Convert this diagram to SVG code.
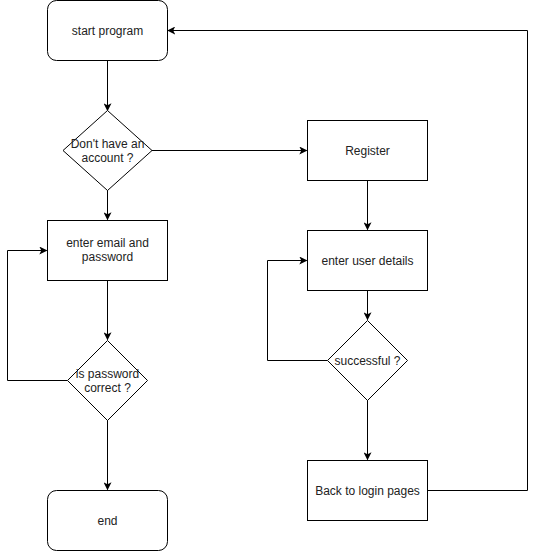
<svg xmlns="http://www.w3.org/2000/svg" width="536" height="551" viewBox="0 0 536 551">
<defs>
<marker id="arr" viewBox="0 0 10 10" refX="9" refY="5" markerWidth="8" markerHeight="8" markerUnits="userSpaceOnUse" orient="auto">
<path d="M0,0 L10,5 L0,10 L2.5,5 Z" fill="#000"/>
</marker>
<style>
.n{fill:#fff;stroke:#000;stroke-width:1}
.t{font-family:"Liberation Sans",Arial,sans-serif;font-size:12px;fill:#222;text-anchor:middle}
.c{fill:none;stroke:#000;stroke-width:1;marker-end:url(#arr)}
.l{fill:none;stroke:#000;stroke-width:1}
</style>
</defs>
<rect width="536" height="551" fill="#fff"/>
<g id="connectors">
<path class="c" d="M107.5,60.5 V110.5"/>
<path class="c" d="M152,150.5 H306.5"/>
<path class="c" d="M107.5,190 V219.5"/>
<path class="c" d="M107.5,280.5 V339.5"/>
<path class="c" d="M67.5,380.5 H7.5 V250.5 H46.5"/>
<path class="c" d="M107.5,420 V489.5"/>
<path class="c" d="M367.5,180.5 V229.5"/>
<path class="c" d="M367.5,290.5 V319.5"/>
<path class="c" d="M327.5,360.5 H267.5 V260.5 H306.5"/>
<path class="c" d="M367.5,400 V459.5"/>
<path class="c" d="M427.5,490.5 H527.5 V30.5 H168"/>
</g>
<g id="start">
<rect class="n" x="47.5" y="0.5" width="120" height="60" rx="9"/>
<text class="t" x="107.5" y="34.5">start program</text>
</g>
<g id="haveAccount">
<polygon class="n" points="107.5,110.5 152,150.5 107.5,190.5 63,150.5"/>
<text class="t" x="107.5" y="148">Don't have an</text>
<text class="t" x="107.5" y="162">account ?</text>
</g>
<g id="enterEmail">
<rect class="n" x="47.5" y="220.5" width="120" height="60"/>
<text class="t" x="107.5" y="247">enter email and</text>
<text class="t" x="107.5" y="261">password</text>
</g>
<g id="pwdCorrect">
<polygon class="n" points="107.5,340.5 147.5,380.5 107.5,420.5 67.5,380.5"/>
<text class="t" x="107.5" y="378">is password</text>
<text class="t" x="107.5" y="392">correct ?</text>
</g>
<g id="end">
<rect class="n" x="47.5" y="490.5" width="120" height="60" rx="9"/>
<text class="t" x="107.5" y="524.5">end</text>
</g>
<g id="register">
<rect class="n" x="307.5" y="120.5" width="120" height="60"/>
<text class="t" x="367.5" y="154.5">Register</text>
</g>
<g id="userDetails">
<rect class="n" x="307.5" y="230.5" width="120" height="60"/>
<text class="t" x="367.5" y="264.5">enter user details</text>
</g>
<g id="successful">
<polygon class="n" points="367.5,320.5 407.5,360.5 367.5,400.5 327.5,360.5"/>
<text class="t" x="367.5" y="364.5">successful ?</text>
</g>
<g id="backLogin">
<rect class="n" x="307.5" y="460.5" width="120" height="60"/>
<text class="t" x="367.5" y="494.5">Back to login pages</text>
</g>
</svg>
